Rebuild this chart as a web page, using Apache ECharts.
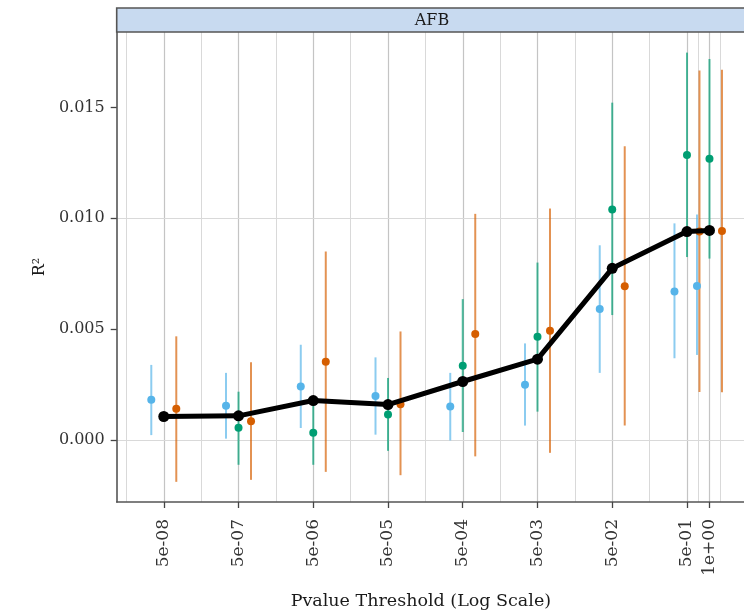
<!DOCTYPE html>
<html>
<head>
<meta charset="utf-8">
<script src="https://cdn.jsdelivr.net/npm/echarts@6/dist/echarts.min.js"></script>
<style>
html,body{margin:0;padding:0;background:#fff;}
#chart{width:744px;height:615px;}
</style>
</head>
<body>
<div id="chart"></div>
<script>
// ---- data ----
const thresholds = [5e-8, 5e-7, 5e-6, 5e-5, 5e-4, 5e-3, 5e-2, 5e-1, 1];
const tickLabels = ['5e-08', '5e-07', '5e-06', '5e-05', '5e-04', '5e-03', '5e-02', '5e-01', '1e+00'];
const yTicks = [0, 0.005, 0.010, 0.015];
const yMinorTicks = [-0.0025, 0.0025, 0.0075, 0.0125, 0.0175];

const overall = [0.00105, 0.00108, 0.00177, 0.00159, 0.00263, 0.00364, 0.00774, 0.00940, 0.00945];

const blueMid  = [0.00181, 0.00153, 0.00240, 0.00198, 0.00150, 0.00248, 0.00590, 0.00669, 0.00694];
const blueLow  = [0.00021, 0.00005, 0.00053, 0.00023, -0.00003, 0.00064, 0.00302, 0.00368, 0.00383];
const blueHigh = [0.00338, 0.00302, 0.00429, 0.00372, 0.00302, 0.00435, 0.00878, 0.00977, 0.01017];

const greenMid  = [null, 0.00054, 0.00032, 0.00114, 0.00334, 0.00465, 0.01040, 0.01286, 0.01269];
const greenLow  = [null, -0.00113, -0.00113, -0.00050, 0.00035, 0.00127, 0.00563, 0.00825, 0.00818];
const greenHigh = [null, 0.00217, 0.00178, 0.00279, 0.00635, 0.00800, 0.01522, 0.01748, 0.01719];

const orangeMid  = [0.00140, 0.00084, 0.00352, 0.00160, 0.00477, 0.00492, 0.00693, 0.00940, 0.00942];
const orangeLow  = [-0.00190, -0.00181, -0.00145, -0.00160, -0.00075, -0.00059, 0.00064, 0.00216, 0.00215];
const orangeHigh = [0.00467, 0.00350, 0.00850, 0.00489, 0.01020, 0.01044, 0.01325, 0.01667, 0.01670];

// ---- layout / style ----
const FONT = 'DejaVu Serif';
const GRID_LEFT = 116.7, GRID_TOP = 32, GRID_W = 627.3, GRID_H = 471.5;
const X_MIN = -7.931, X_MAX = 0.462;
const Y_MIN = -0.00281, Y_MAX = 0.01841;
const DODGE = 12.5;

const xBreaks = thresholds.map(t => Math.log10(t));
const xMinor = [];
for (let i = 0; i < xBreaks.length - 1; i++) xMinor.push((xBreaks[i] + xBreaks[i + 1]) / 2);
xMinor.unshift(xBreaks[0] - (xBreaks[1] - xBreaks[0]) / 2);
xMinor.push(xBreaks[xBreaks.length - 1] + (xBreaks[xBreaks.length - 1] - xBreaks[xBreaks.length - 2]) / 2);

function labelFor(v) {
  let best = 0, d = Infinity;
  xBreaks.forEach((b, i) => { if (Math.abs(b - v) < d) { d = Math.abs(b - v); best = i; } });
  return tickLabels[best];
}

const MAJOR = '#c4c4c4', MINOR = '#d9d9d9';
const gridLines = [];
xBreaks.forEach(v => gridLines.push({ xAxis: v, lineStyle: { color: MAJOR, width: 1.2, type: 'solid' } }));
xMinor.forEach(v => gridLines.push({ xAxis: v, lineStyle: { color: MINOR, width: 1, type: 'solid' } }));
yTicks.forEach(v => gridLines.push({ yAxis: v, lineStyle: { color: MAJOR, width: 1.2, type: 'solid' } }));
yMinorTicks.forEach(v => gridLines.push({ yAxis: v, lineStyle: { color: MINOR, width: 1, type: 'solid' } }));

function errSeries(mid, low, high, color, dodge) {
  const data = [];
  thresholds.forEach((t, i) => { if (mid[i] != null) data.push([Math.log10(t), mid[i], low[i], high[i]]); });
  return {
    type: 'custom', z: 3, silent: true, animation: false,
    data: data,
    encode: { x: 0, y: [1, 2, 3] },
    renderItem: function (params, api) {
      const x = api.value(0);
      const p1 = api.coord([x, api.value(2)]);
      const p2 = api.coord([x, api.value(3)]);
      return {
        type: 'line',
        shape: { x1: p1[0] + dodge, y1: p1[1], x2: p2[0] + dodge, y2: p2[1] },
        style: { stroke: color, lineWidth: 2, opacity: 0.68 }
      };
    }
  };
}
function ptSeries(mid, color, dodge) {
  const data = [];
  thresholds.forEach((t, i) => { if (mid[i] != null) data.push([Math.log10(t), mid[i]]); });
  return {
    type: 'scatter', z: 4, silent: true, animation: false,
    data: data, symbol: 'circle', symbolSize: 8, symbolOffset: [dodge, 0],
    itemStyle: { color: color, opacity: 1 }
  };
}

const BLUE = '#56B4E9', GREEN = '#009E73', ORANGE = '#D55E00';

const chart = echarts.init(document.getElementById('chart'), null, { renderer: 'canvas' });
chart.setOption({
  backgroundColor: '#ffffff',
  animation: false,
  grid: { left: GRID_LEFT, top: GRID_TOP, width: GRID_W, height: GRID_H, containLabel: false },
  xAxis: {
    type: 'value', min: X_MIN, max: X_MAX,
    name: 'Pvalue Threshold (Log Scale)', nameLocation: 'middle', nameGap: 90,
    nameTextStyle: { fontFamily: FONT, fontSize: 17.5, color: '#1a1a1a', padding: [0, 19, 0, 0] },
    axisLine: { show: true, onZero: false, lineStyle: { color: '#555', width: 1.6 } },
    axisTick: { show: true, customValues: xBreaks, length: 6, lineStyle: { color: '#444', width: 1.3 } },
    axisLabel: { customValues: xBreaks, rotate: 90, margin: 17, formatter: labelFor,
      fontFamily: FONT, fontSize: 17, color: '#333' },
    splitLine: { show: false }
  },
  yAxis: {
    type: 'value', min: Y_MIN, max: Y_MAX,
    name: 'R²', nameLocation: 'middle', nameGap: 68, nameRotate: 90,
    nameTextStyle: { fontFamily: FONT, fontSize: 16, color: '#1a1a1a' },
    axisLine: { show: true, onZero: false, lineStyle: { color: '#555', width: 1.6 } },
    axisTick: { show: true, customValues: yTicks, length: 6, lineStyle: { color: '#444', width: 1.3 } },
    axisLabel: { customValues: yTicks, margin: 12, formatter: v => v.toFixed(3),
      fontFamily: FONT, fontSize: 16, color: '#333' },
    splitLine: { show: false }
  },
  graphic: [
    { type: 'rect', z: 10, shape: { x: GRID_LEFT, y: 8, width: GRID_W + 10, height: 24 },
      style: { fill: '#c8daf0', stroke: '#555', lineWidth: 1.6 } },
    { type: 'text', z: 11, x: 432, y: 20.5,
      style: { text: 'AFB', fontFamily: FONT, fontSize: 16, fill: '#1a1a1a', align: 'center', verticalAlign: 'middle' } }
  ],
  series: [
    { type: 'line', data: [], z: 0, silent: true,
      markLine: { z: 0, silent: true, symbol: ['none', 'none'], label: { show: false }, animation: false, data: gridLines } },
    errSeries(blueMid, blueLow, blueHigh, BLUE, -DODGE),
    errSeries(greenMid, greenLow, greenHigh, GREEN, 0),
    errSeries(orangeMid, orangeLow, orangeHigh, ORANGE, DODGE),
    ptSeries(blueMid, BLUE, -DODGE),
    ptSeries(greenMid, GREEN, 0),
    ptSeries(orangeMid, ORANGE, DODGE),
    { type: 'line', z: 5, silent: true, animation: false,
      data: thresholds.map((t, i) => [Math.log10(t), overall[i]]),
      symbol: 'circle', symbolSize: 11, showSymbol: true,
      itemStyle: { color: '#000' }, lineStyle: { color: '#000', width: 5 } }
  ]
});
</script>
</body>
</html>
